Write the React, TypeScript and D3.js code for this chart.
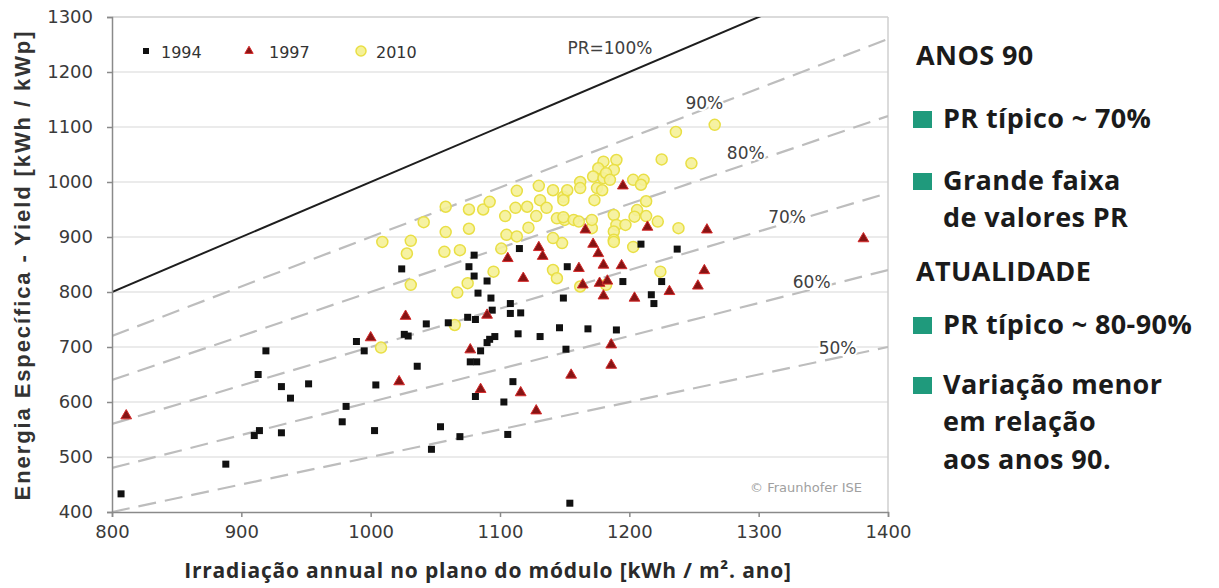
import React, { useEffect, useRef } from "react";
import * as d3 from "d3";

// [irradiation kWh/m2.a, yield kWh/kWp]
const data1994 = [
  [807, 433], [888, 487], [910, 539], [914, 548], [919, 693], [913, 650], [931, 628], [938, 607],
  [952, 633], [931, 544], [978, 564], [981, 592], [989, 710], [995, 693], [1004, 631], [1003, 548],
  [1024, 842], [1026, 723], [1029, 720], [1036, 665], [1043, 742], [1060, 744], [1047, 514], [1054, 555],
  [1080, 867], [1076, 846], [1080, 829], [1090, 820], [1083, 798], [1093, 789], [1108, 779], [1094, 767],
  [1108, 761], [1116, 762], [1115, 879], [1075, 754], [1081, 750], [1092, 714], [1096, 719], [1090, 708],
  [1114, 724], [1131, 719], [1146, 735], [1168, 733], [1190, 731], [1151, 696], [1085, 693], [1077, 673],
  [1082, 673], [1110, 637], [1081, 610], [1103, 600], [1069, 537], [1106, 541], [1154, 416], [1149, 789],
  [1152, 846], [1195, 819], [1209, 887], [1237, 878], [1217, 795], [1219, 779], [1225, 819],
];

const data1997 = [
  [811, 575], [1000, 717], [1027, 756], [1022, 637], [1106, 861], [1130, 881], [1133, 865], [1118, 825],
  [1090, 758], [1077, 695], [1085, 623], [1116, 617], [1128, 584], [1155, 649], [1186, 704], [1186, 667],
  [1161, 843], [1180, 849], [1194, 848], [1164, 813], [1177, 816], [1183, 820], [1180, 793], [1204, 789],
  [1231, 801], [1253, 811], [1258, 839], [1172, 887], [1176, 870], [1195, 993], [1166, 913], [1214, 918],
  [1260, 913], [1381, 897],
];

const data2010 = [
  [1009, 891], [1031, 893], [1041, 927], [1028, 870], [1058, 955], [1058, 909], [1057, 873], [1031, 813],
  [1008, 699], [1069, 876], [1067, 799], [1076, 950], [1076, 915], [1087, 950], [1092, 964], [1095, 837],
  [1075, 816], [1104, 938], [1105, 904], [1101, 879], [1113, 984], [1112, 953], [1121, 955], [1122, 917],
  [1130, 993], [1131, 967], [1136, 953], [1141, 985], [1144, 934], [1148, 889], [1141, 840], [1144, 825],
  [1150, 931], [1149, 973], [1128, 938], [1180, 1037], [1190, 1040], [1188, 1022], [1176, 1025], [1172, 1010],
  [1180, 1007], [1182, 1016], [1162, 1000], [1152, 985], [1162, 989], [1175, 989], [1185, 1004], [1149, 967],
  [1173, 967], [1179, 985], [1203, 1004], [1211, 1004], [1209, 995], [1225, 1041], [1236, 1091], [1266, 1104],
  [1248, 1034], [1213, 965], [1206, 949], [1188, 940], [1149, 936], [1157, 931], [1161, 928], [1190, 922],
  [1197, 922], [1204, 937], [1213, 938], [1222, 928], [1188, 910], [1171, 916], [1188, 895], [1238, 916],
  [1203, 882], [1224, 837], [1182, 813], [1162, 810], [1171, 931], [1065, 740], [1188, 891], [1113, 901],
  [1141, 898],
];

const prLevels = [1, 0.9, 0.8, 0.7, 0.6, 0.5];
const prLabels = ["PR=100%", "90%", "80%", "70%", "60%", "50%"];
// label centres, in data units [irradiation, yield]
const prLabelPos = [[1185, 1244], [1258, 1144], [1290, 1053], [1322, 936], [1341, 818], [1361, 698]];

const legendYears = ["1994", "1997", "2010"];

const xTicks = [800, 900, 1000, 1100, 1200, 1300, 1400];
const yTicks = [400, 500, 600, 700, 800, 900, 1000, 1100, 1200, 1300];

const notes = [
  { text: "ANOS 90", kind: "head", y: 65 },
  { text: "PR típico ~ 70%", kind: "bullet", y: 128 },
  { text: "Grande faixa", kind: "bullet", y: 190 },
  { text: "de valores PR", kind: "cont", y: 227 },
  { text: "ATUALIDADE", kind: "head", y: 281 },
  { text: "PR típico ~ 80-90%", kind: "bullet", y: 334 },
  { text: "Variação menor", kind: "bullet", y: 394 },
  { text: "em relação", kind: "cont", y: 431 },
  { text: "aos anos 90.", kind: "cont", y: 469 },
];

const W = 1219, H = 588;
const left = 112, right = 888, top = 17, bottom = 512;
const chartFont = "'DejaVu Sans', sans-serif";

const App = () => {
  const xAxisRef = useRef(null);
  const yAxisRef = useRef(null);

  const x = d3.scaleLinear().domain([800, 1400]).range([left, right]);
  const y = d3.scaleLinear().domain([400, 1300]).range([bottom, top]);

  const tri = d3.symbol().type(d3.symbolTriangle).size(50)();
  const line = d3.line().x(d => x(d[0])).y(d => y(d[1]));

  useEffect(() => {
    const gx = d3.select(xAxisRef.current);
    gx.call(d3.axisBottom(x).tickValues(xTicks).tickSize(5).tickPadding(8).tickFormat(d3.format("d")));
    gx.selectAll("path, line").attr("stroke", "#8a8a8a").attr("stroke-width", 1.5);
    gx.selectAll("text").attr("fill", "#3a3a3a").style("font-size", "18px").style("font-family", chartFont);

    const gy = d3.select(yAxisRef.current);
    gy.call(d3.axisLeft(y).tickValues(yTicks).tickSize(5).tickPadding(14).tickFormat(d3.format("d")));
    gy.selectAll("path, line").attr("stroke", "#8a8a8a").attr("stroke-width", 1.5);
    gy.selectAll("text").attr("fill", "#3a3a3a").style("font-size", "18px").style("font-family", chartFont);
  }, []);

  return (
    <svg width={W} height={H} style={{ position: "absolute", left: 0, top: 0, background: "#fff" }}>
      <defs>
        <clipPath id="plot">
          <rect x={left} y={top} width={right - left} height={bottom - top} />
        </clipPath>
      </defs>

      {/* grid */}
      {yTicks.slice(1, -1).map(t => (
        <line key={t} x1={left} x2={right} y1={y(t)} y2={y(t)} stroke="#e4e4e4" strokeWidth={1.5} />
      ))}
      <line x1={left} x2={right} y1={top} y2={top} stroke="#cfcfcf" strokeWidth={1.5} />
      <line x1={right} x2={right} y1={top} y2={bottom} stroke="#cfcfcf" strokeWidth={1.5} />

      {/* PR reference lines */}
      <g clipPath="url(#plot)">
        {prLevels.map(p => (
          <path
            key={p}
            d={line([[800, 800 * p], [1400, 1400 * p]])}
            fill="none"
            stroke={p === 1 ? "#1e1e1e" : "#bdbdbd"}
            strokeWidth={p === 1 ? 2 : 2.2}
            strokeDasharray={p === 1 ? null : "18 9"}
          />
        ))}
      </g>

      {/* points */}
      <g>
        {data2010.map((d, i) => (
          <circle key={i} cx={x(d[0])} cy={y(d[1])} r={5.5} fill="#f5f198" fillOpacity={0.9} stroke="#e9df45" strokeWidth={1.5} />
        ))}
      </g>
      <g>
        {data1994.map((d, i) => (
          <rect key={i} x={x(d[0]) - 3.5} y={y(d[1]) - 3.5} width={7} height={7} fill="#111" />
        ))}
      </g>
      <g>
        {data1997.map((d, i) => (
          <path key={i} d={tri} transform={`translate(${x(d[0])},${y(d[1])})`} fill="#861414" stroke="#d42a2a" strokeWidth={1} />
        ))}
      </g>

      {/* PR labels */}
      {prLabels.map((lab, i) => (
        <text
          key={lab}
          x={x(prLabelPos[i][0])}
          y={y(prLabelPos[i][1]) + 6}
          textAnchor="middle"
          style={{ fontFamily: chartFont, fontSize: 17 }}
          fill="#404040"
          stroke="#fff"
          strokeWidth={4}
          paintOrder="stroke"
        >
          {lab}
        </text>
      ))}

      {/* legend */}
      <g style={{ fontFamily: chartFont, fontSize: 16 }} fill="#333">
        <rect x={143} y={48} width={6} height={6} fill="#111" />
        <text x={161} y={58}>{legendYears[0]}</text>
        <path d={d3.symbol().type(d3.symbolTriangle).size(30)()} transform="translate(249,51)" fill="#861414" stroke="#d42a2a" />
        <text x={269} y={58}>{legendYears[1]}</text>
        <circle cx={361} cy={51} r={5} fill="#f5f198" stroke="#e9df45" strokeWidth={1.5} />
        <text x={376} y={58}>{legendYears[2]}</text>
      </g>

      <text x={862} y={492} textAnchor="end" style={{ fontFamily: chartFont, fontSize: 13 }} fill="#a0a0a0">
        © Fraunhofer ISE
      </text>

      <g ref={xAxisRef} transform={`translate(0,${bottom})`} />
      <g ref={yAxisRef} transform={`translate(${left},0)`} />

      {/* axis titles */}
      <text
        transform={`translate(30,265) rotate(-90)`}
        textAnchor="middle"
        style={{ fontFamily: "'Liberation Sans', Arial, sans-serif", fontSize: 22, fontWeight: 700, letterSpacing: 1.9 }}
        fill="#333"
      >
        Energia Específica - Yield [kWh / kWp]
      </text>
      <text
        x={488}
        y={578}
        textAnchor="middle"
        style={{ fontFamily: "'Open Sans', sans-serif", fontSize: 21, fontWeight: 700, letterSpacing: 0.8 }}
        fill="#2a2a2a"
      >
        Irradiação annual no plano do módulo [kWh / m². ano]
      </text>

      {/* notes on the right */}
      <g style={{ fontFamily: "'Open Sans', sans-serif", fontWeight: 700, fontSize: 27, letterSpacing: 0.4 }} fill="#1b1b1b">
        {notes.map((n, i) => (
          <g key={i}>
            {n.kind === "bullet" && <rect x={913} y={n.y - 17} width={19} height={17} fill="#1f9a7c" />}
            <text x={n.kind === "head" ? 916 : 943} y={n.y}>{n.text}</text>
          </g>
        ))}
      </g>
    </svg>
  );
};

export default App;
